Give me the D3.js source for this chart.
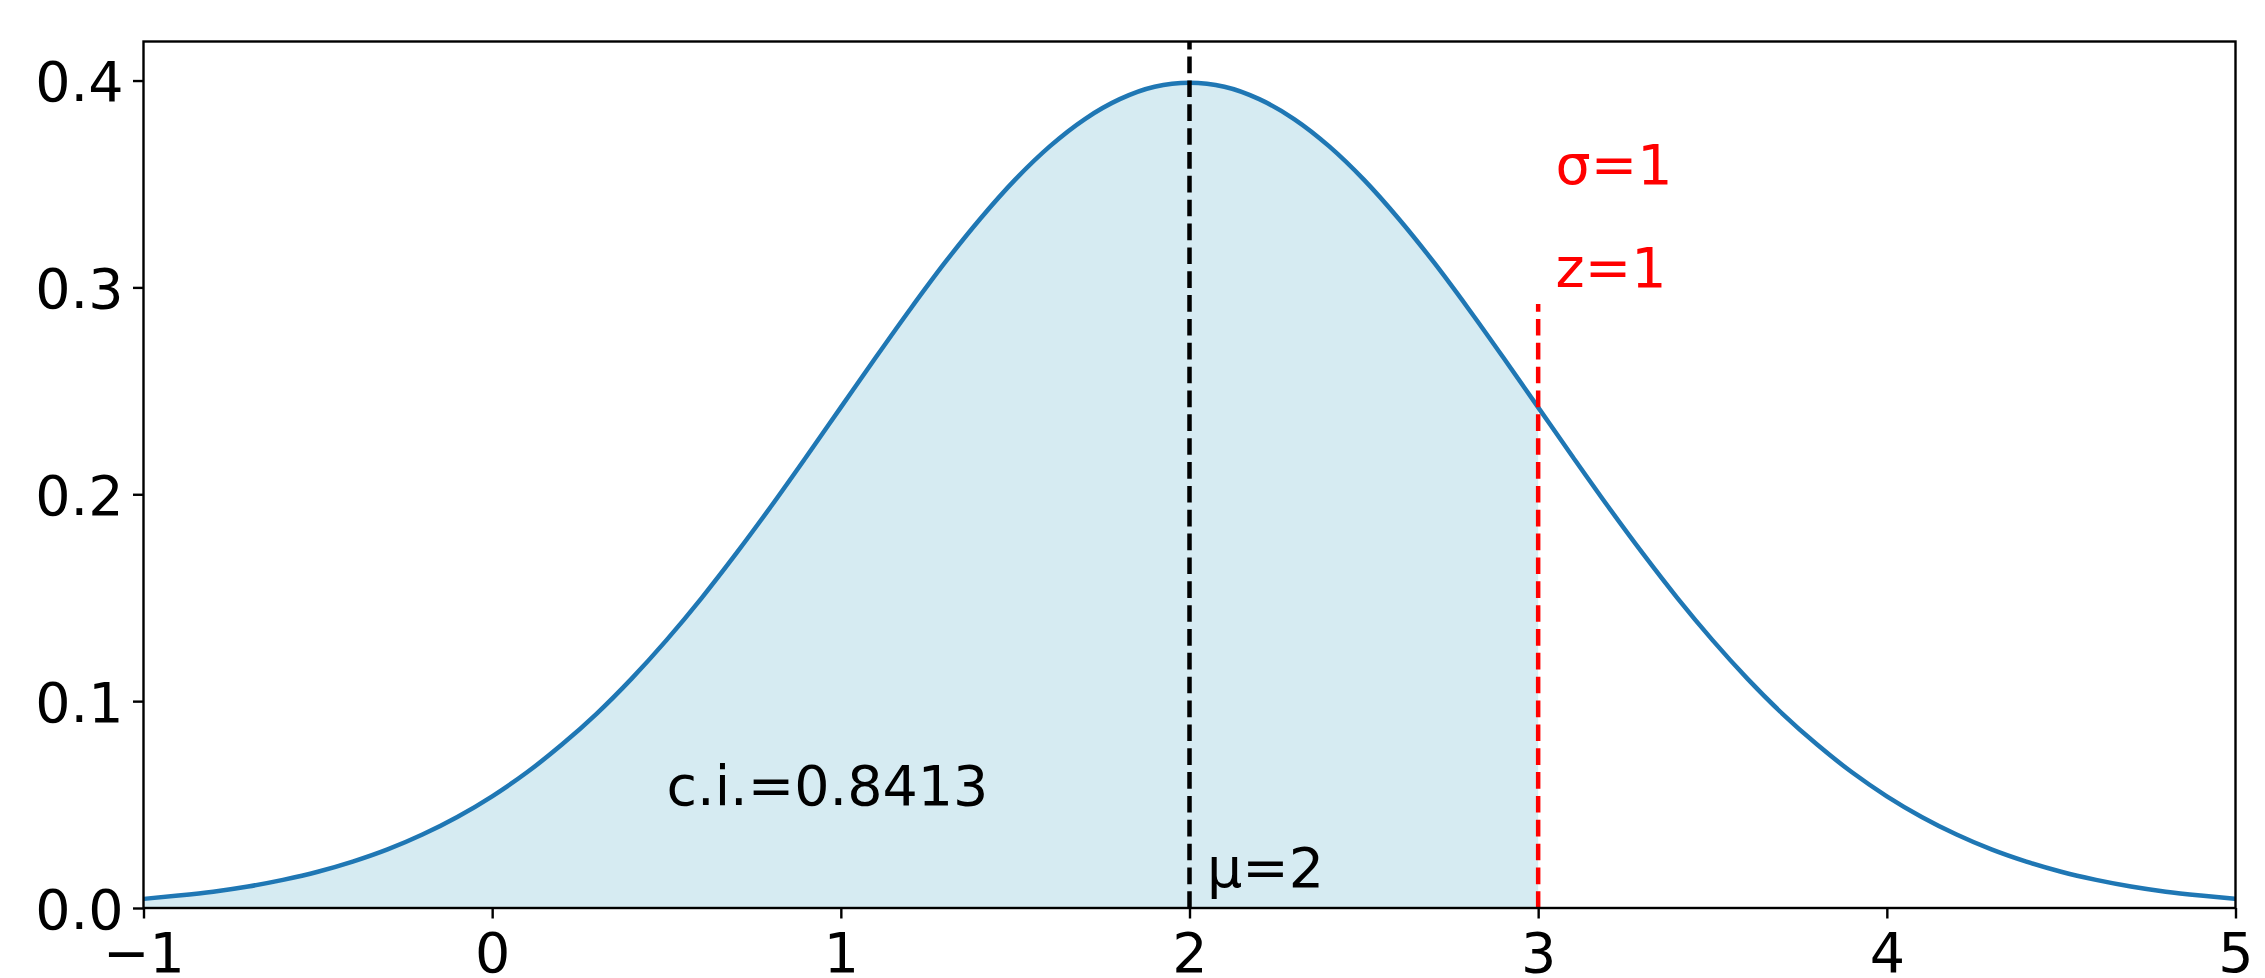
<!DOCTYPE html>
<html>
<head>
<meta charset="utf-8">
<script src="https://cdn.jsdelivr.net/npm/d3@7"></script>
<style>
  html, body { margin: 0; padding: 0; background: #ffffff; }
  svg { display: block; }
  text { font-family: "DejaVu Sans", sans-serif; }
</style>
</head>
<body>
<svg id="chart" width="2265" height="978"></svg>
<script>
// ---- data ----
const xValues = [-1.0,-0.9,-0.8,-0.7,-0.6,-0.5,-0.4,-0.3,-0.2,-0.1,
  0.0,0.1,0.2,0.3,0.4,0.5,0.6,0.7,0.8,0.9,
  1.0,1.1,1.2,1.3,1.4,1.5,1.6,1.7,1.8,1.9,
  2.0,2.1,2.2,2.3,2.4,2.5,2.6,2.7,2.8,2.9,
  3.0,3.1,3.2,3.3,3.4,3.5,3.6,3.7,3.8,3.9,
  4.0,4.1,4.2,4.3,4.4,4.5,4.6,4.7,4.8,4.9,5.0];
const densityValues = [0.0044,0.0060,0.0079,0.0104,0.0136,0.0175,0.0224,0.0283,0.0355,0.0440,
  0.0540,0.0656,0.0790,0.0940,0.1109,0.1295,0.1497,0.1714,0.1942,0.2179,
  0.2420,0.2661,0.2897,0.3123,0.3332,0.3521,0.3683,0.3814,0.3910,0.3970,
  0.3989,0.3970,0.3910,0.3814,0.3683,0.3521,0.3332,0.3123,0.2897,0.2661,
  0.2420,0.2179,0.1942,0.1714,0.1497,0.1295,0.1109,0.0940,0.0790,0.0656,
  0.0540,0.0440,0.0355,0.0283,0.0224,0.0175,0.0136,0.0104,0.0079,0.0060,0.0044];
const shadeFrom = -1;
const shadeTo = 3;
const meanValue = 2;
const zLineTop = 0.292;
const xTicks = [-1, 0, 1, 2, 3, 4, 5];
const yTicks = [0.0, 0.1, 0.2, 0.3, 0.4];
const annotations = [
  { x: 0.5, y: 0.05, text: "c.i.=0.8413", color: "#000000" },
  { x: 2.05, y: 0.01, text: "μ=2", color: "#000000" },
  { x: 3.05, y: 0.35, text: "σ=1", color: "#ff0000" },
  { x: 3.05, y: 0.30, text: "z=1", color: "#ff0000" }
];

// ---- layout ----
const W = 2265, H = 978;
const margin = { left: 143.5, right: 29.5, top: 41.5, bottom: 70 };
const iw = W - margin.left - margin.right;
const ih = H - margin.top - margin.bottom;
const fontPx = 55.5;
const tickLen = 10.5, tickPad = 10.5;

const svg = d3.select("#chart");
const g = svg.append("g").attr("transform", `translate(${margin.left},${margin.top})`);

const x = d3.scaleLinear().domain([-1, 5]).range([0, iw]);
const y = d3.scaleLinear().domain([0, 0.41887]).range([ih, 0]);

const pts = xValues.map((v, i) => ({ x: v, y: densityValues[i] }));

// shaded area
const area = d3.area()
  .x(d => x(d.x)).y0(y(0)).y1(d => y(d.y))
  .curve(d3.curveMonotoneX);
g.append("path")
  .datum(pts.filter(d => d.x >= shadeFrom - 1e-9 && d.x <= shadeTo + 1e-9))
  .attr("d", area)
  .attr("fill", "#add8e6")
  .attr("fill-opacity", 0.5);

// curve
const line = d3.line().x(d => x(d.x)).y(d => y(d.y)).curve(d3.curveMonotoneX);
g.append("path")
  .datum(pts)
  .attr("d", line)
  .attr("fill", "none")
  .attr("stroke", "#1f77b4")
  .attr("stroke-width", 4.5)
  .attr("stroke-linejoin", "round");

// mean line (full height), drawn bottom to top
g.append("line")
  .attr("x1", x(meanValue)).attr("x2", x(meanValue))
  .attr("y1", ih).attr("y2", 0)
  .attr("stroke", "#000000").attr("stroke-width", 4.5)
  .attr("stroke-dasharray", "16.65,7.2");

// z line
g.append("line")
  .attr("x1", x(shadeTo)).attr("x2", x(shadeTo))
  .attr("y1", y(0)).attr("y2", y(zLineTop))
  .attr("stroke", "#ff0000").attr("stroke-width", 4.5)
  .attr("stroke-dasharray", "16.65,7.2");

// annotations
g.selectAll("text.ann").data(annotations).enter().append("text")
  .attr("class", "ann")
  .attr("x", d => x(d.x)).attr("y", d => y(d.y))
  .attr("fill", d => d.color)
  .attr("font-size", fontPx)
  .text(d => d.text);

// axes
const xAxis = d3.axisBottom(x).tickValues(xTicks)
  .tickFormat(d => d < 0 ? "\u2212" + Math.abs(d) : String(d))
  .tickSize(tickLen).tickPadding(tickPad);
const yAxis = d3.axisLeft(y).tickValues(yTicks)
  .tickFormat(d3.format(".1f"))
  .tickSize(tickLen).tickPadding(tickPad);

const gx = g.append("g").attr("transform", `translate(0,${ih})`).call(xAxis);
const gy = g.append("g").call(yAxis);
[gx, gy].forEach(a => {
  a.select(".domain").remove();
  a.selectAll(".tick line").attr("stroke", "#000").attr("stroke-width", 2.4);
  a.selectAll(".tick text").attr("font-size", fontPx).attr("fill", "#000")
    .attr("font-family", "DejaVu Sans, sans-serif");
});
gx.selectAll(".tick text").attr("dy", null).attr("y", 972 - margin.top - ih);
gy.selectAll(".tick text").attr("dy", null).attr("y", 20).attr("x", -(tickLen + tickPad - 1));

// spines
g.append("rect")
  .attr("x", 0).attr("y", 0).attr("width", iw).attr("height", ih)
  .attr("fill", "none").attr("stroke", "#000").attr("stroke-width", 2.4);
</script>
</body>
</html>
